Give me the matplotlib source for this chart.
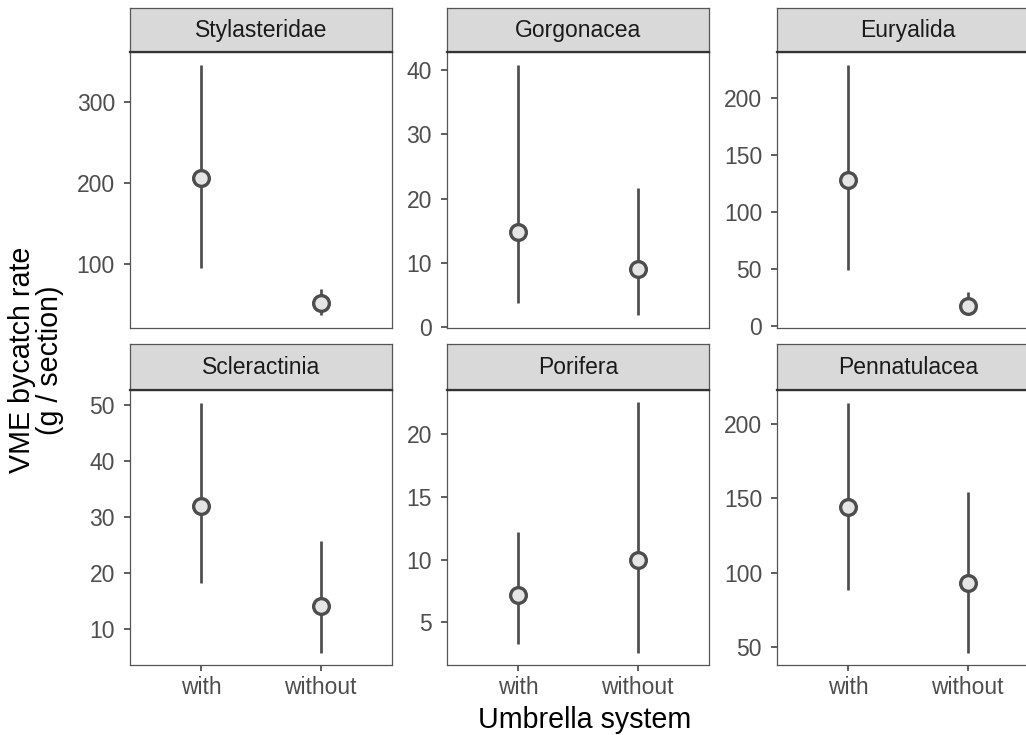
import matplotlib
matplotlib.use("Agg")
import matplotlib.pyplot as plt

# ---- data ----
taxa = ["Stylasteridae", "Gorgonacea", "Euryalida",
        "Scleractinia", "Porifera", "Pennatulacea"]
groups = ["with", "without"]
est = [[206, 52.3], [14.8, 9.0], [128, 17.7],
       [32.1, 14.1], [7.18, 9.97], [144.3, 93.1]]
lower = [[95.4, 36.5], [3.76, 1.8], [48.8, 9.1],
         [18.3, 5.84], [3.24, 2.6], [88.6, 46.2]]
upper = [[346, 69.7], [40.9, 21.6], [229, 29.8],
         [50.5, 25.7], [12.23, 22.55], [214.6, 154]]
yticks = [[100, 200, 300], [0, 10, 20, 30, 40], [0, 50, 100, 150, 200],
          [10, 20, 30, 40, 50], [5, 10, 15, 20], [50, 100, 150, 200]]

plt.rcParams['font.family'] = ['Liberation Sans', 'DejaVu Sans']

W, H = 1026, 735
fig = plt.figure(figsize=(W / 100, H / 100), dpi=100)

cols = [(130, 392), (447, 709), (777, 1039)]
rows = [((8, 52), (52, 328)), ((344, 390), (390, 665))]

def rect(x0, x1, y0, y1):
    return [x0 / W, 1 - y1 / H, (x1 - x0) / W, (y1 - y0) / H]

line_col = "#4D4D4D"
border_col = "#555555"

for i, name in enumerate(taxa):
    r, c = divmod(i, 3)
    (sy0, sy1), (py0, py1) = rows[r]
    x0, x1 = cols[c]
    ax = fig.add_axes(rect(x0, x1, py0, py1))
    xs = list(range(1, len(groups) + 1))
    ax.vlines(xs, lower[i], upper[i], color=line_col, linewidth=1.95, zorder=2)
    ax.plot(xs, est[i], linestyle='none', marker='o', markersize=11.3,
            markerfacecolor="#E5E5E5", markeredgecolor=line_col,
            markeredgewidth=2.4, zorder=3)
    ax.set_xlim(0.4, len(groups) + 0.6)
    ax.margins(y=0.05)
    ax.set_yticks(yticks[i])
    ax.set_yticklabels([str(t) for t in yticks[i]])
    ax.tick_params(axis='y', length=4.3, width=1.1, color="#333333",
                   labelsize=16.5, labelcolor="#4D4D4D", pad=6.5)
    if r == 1:
        ax.set_xticks(xs)
        ax.set_xticklabels(groups)
        ax.tick_params(axis='x', length=4.3, width=1.1, color="#333333",
                       labelsize=16.5, labelcolor="#4D4D4D", pad=3.5)
    else:
        ax.set_xticks([])
    for sp in ax.spines.values():
        sp.set_color(border_col)
        sp.set_linewidth(0.9)
    # strip
    sax = fig.add_axes(rect(x0, x1, sy0, sy1))
    sax.set_facecolor("#D9D9D9")
    sax.set_xticks([])
    sax.set_yticks([])
    for sp in sax.spines.values():
        sp.set_color("#555555")
        sp.set_linewidth(0.9)
    sax.spines['bottom'].set_color("#333333")
    sax.spines['bottom'].set_linewidth(1.6)
    sax.text(0.5, 0.5, name, ha='center', va='center', fontsize=16.5,
             color="#1A1A1A", transform=sax.transAxes)

fig.text(584.5 / W, 1 - 728 / H, "Umbrella system", ha='center',
         va='baseline', fontsize=20.6, color='black')
fig.text(36 / W, 1 - 360 / H, "VME bycatch rate\n(g / section)", ha='center',
         va='center', rotation=90, fontsize=20.6, color='black',
         multialignment='center', linespacing=1.0)

fig.savefig("out.png", dpi=100)
